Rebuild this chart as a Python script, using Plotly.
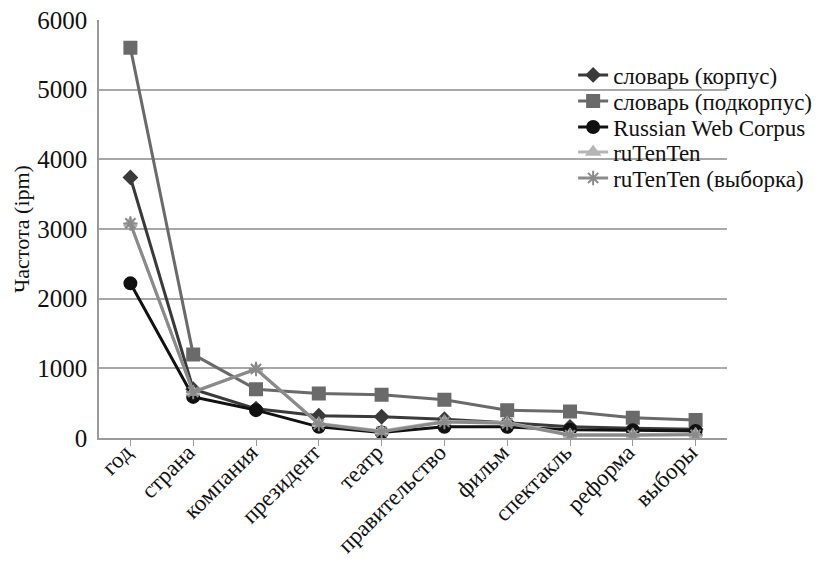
import plotly.graph_objects as go

categories = ["год", "страна", "компания", "президент", "театр",
              "правительство", "фильм", "спектакль", "реформа", "выборы"]

slovar_korpus = [3740, 700, 420, 320, 305, 270, 220, 160, 140, 125]
slovar_podkorpus = [5600, 1200, 700, 640, 620, 550, 400, 380, 290, 260]
russian_web_corpus = [2220, 590, 400, 160, 80, 160, 160, 120, 110, 100]
rutenten = [3080, 660, 990, 210, 100, 240, 220, 50, 50, 55]
rutenten_sample = [3080, 660, 990, 200, 90, 230, 210, 40, 40, 45]

series = [
    ("словарь (корпус)", slovar_korpus, "#3a3a3a", "diamond", 10),
    ("словарь (подкорпус)", slovar_podkorpus, "#6a6a6a", "square", 12),
    ("Russian Web Corpus", russian_web_corpus, "#111111", "circle", 12),
    ("ruTenTen", rutenten, "#b5b5b5", "triangle-up", 11),
    ("ruTenTen (выборка)", rutenten_sample, "#8a8a8a", "asterisk-open", 12),
]

FONT = '"Liberation Serif", "Times New Roman", serif'
TEXT = "#111111"

# plot area in pixels (for placing the legend rows)
W, H = 824, 561
L, R, T, B = 99, 97, 20, 123
plot_h = H - T - B

fig = go.Figure()
legend_layout = {}
row_y = [75, 101, 127, 152, 178]
for i, (name, vals, color, sym, size) in enumerate(series):
    key = "legend" if i == 0 else f"legend{i + 1}"
    fig.add_trace(go.Scatter(
        x=categories, y=vals, name=name, mode="lines+markers",
        line=dict(color=color, width=3),
        marker=dict(symbol=sym, size=size, color=color,
                    line=dict(color=color, width=2)),
        legend=key,
    ))
    legend_layout[key] = dict(
        x=0.755, y=(H - B - row_y[i]) / plot_h,
        xanchor="left", yanchor="middle",
        font=dict(family=FONT, size=23, color=TEXT),
        bgcolor="rgba(0,0,0,0)", itemwidth=30,
    )

fig.update_layout(
    width=W, height=H,
    margin=dict(l=L, r=R, t=T, b=B, autoexpand=False),
    paper_bgcolor="white", plot_bgcolor="white",
    font=dict(family=FONT, size=22, color=TEXT),
    showlegend=True,
    xaxis=dict(
        type="category", range=[-0.5, len(categories) - 0.5],
        tickangle=-45, showgrid=False, automargin=False,
        showline=True, linecolor="#9a9a9a", linewidth=1.5,
        ticks="outside", ticklen=6, tickcolor="#9a9a9a",
        ticklabelstandoff=-16, ticklabelshift=-5,
        tickfont=dict(family=FONT, size=23, color=TEXT),
    ),
    yaxis=dict(
        range=[0, 6000], dtick=1000, showgrid=True, automargin=False,
        gridcolor="#a8a8a8", gridwidth=1.5,
        showline=True, linecolor="#9a9a9a", linewidth=1.5,
        zeroline=False, ticks="", ticklabelstandoff=5,
        tickfont=dict(family=FONT, size=25, color=TEXT),
        title=dict(text="Частота (ipm)", standoff=2,
                   font=dict(family=FONT, size=22, color=TEXT)),
    ),
    **legend_layout,
)

fig.write_html("out.html")
